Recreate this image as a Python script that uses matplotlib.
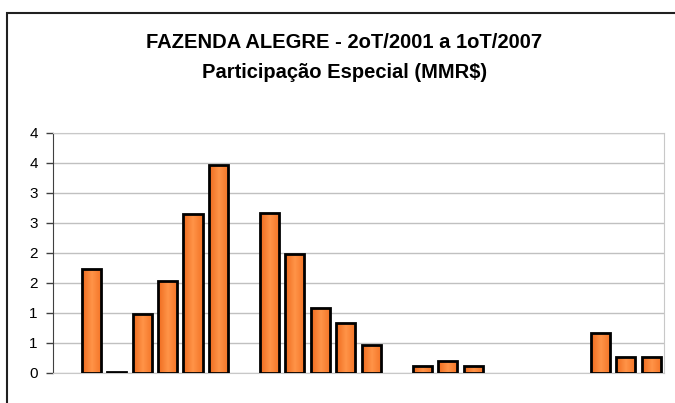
import numpy as np
import matplotlib
matplotlib.use('Agg')
import matplotlib.pyplot as plt
from matplotlib.patches import Rectangle
from matplotlib.colors import LinearSegmentedColormap


#(0) Data: quarterly values, 2oT/2001 .. 1oT/2007 (nan = no bar)
quarters   = ['2T01','3T01','4T01',
              '1T02','2T02','3T02','4T02',
              '1T03','2T03','3T03','4T03',
              '1T04','2T04','3T04','4T04',
              '1T05','2T05','3T05','4T05',
              '1T06','2T06','3T06','4T06',
              '1T07']
values     = [np.nan, 1.74, 0.02, 0.98,
              1.53, 2.65, 3.46, np.nan,
              2.67, 1.99, 1.09, 0.84,
              0.46, np.nan, 0.11, 0.20,
              0.12, np.nan, np.nan, np.nan,
              np.nan, 0.66, 0.27, 0.27]
yticks     = [0, 0.5, 1, 1.5, 2, 2.5, 3, 3.5, 4]
ytlabels   = ['0', '1', '1', '2', '2', '3', '3', '4', '4']


#(1) Figure:
plt.rcParams['font.family'] = ['Liberation Sans', 'DejaVu Sans']
fig = plt.figure(figsize=(6.75, 4.03), dpi=100)
fig.patches.append(Rectangle((7/675, -0.1), 1.2, 1 - 13/403 + 0.1, transform=fig.transFigure,
                             fill=False, edgecolor='#202020', linewidth=1.5))

ax  = fig.add_axes([53/675, 1 - 373/403, 611/675, 240/403])
x   = np.arange(len(quarters))
bars = ax.bar(x, values, width=0.75, color='#FB7D32', edgecolor='black', linewidth=2.0, zorder=3)

#(1a) horizontal gradient fill inside each bar:
cmap = LinearSegmentedColormap.from_list('org', ['#EE6A1E', '#FF9448', '#F47326'])
grad = np.linspace(0, 1, 64).reshape(1, -1)
for b in bars:
    h = b.get_height()
    if not np.isfinite(h) or h <= 0.03:
        continue
    x0 = b.get_x(); w = b.get_width()
    im = ax.imshow(grad, cmap=cmap, aspect='auto', extent=(x0, x0 + w, 0, h), zorder=3.5)
    im.set_clip_path(b)
    b.set_facecolor('none')
    b.set_zorder(4)

ax.set_xlim(-0.5, len(quarters) - 0.5)
ax.set_ylim(0, 4)
ax.set_yticks(yticks)
ax.set_yticklabels(ytlabels, fontsize=11)
ax.set_xticks([])
ax.grid(axis='y', color='#C0C0C0', linewidth=1, zorder=0)
ax.tick_params(axis='y', direction='out', length=5, width=1, color='#404040', pad=6)
for s in ['top', 'right', 'bottom']:
    ax.spines[s].set_color('#C8C8C8')
ax.spines['left'].set_color('#404040')

fig.text(0.51, 1 - 42/403, 'FAZENDA ALEGRE - 2oT/2001 a 1oT/2007', ha='center', va='center',
         fontsize=14.5, fontweight='bold')
fig.text(0.51, 1 - 73/403, 'Participação Especial (MMR$)', ha='center', va='center',
         fontsize=14.5, fontweight='bold')

fig.savefig('out.png', dpi=100)
